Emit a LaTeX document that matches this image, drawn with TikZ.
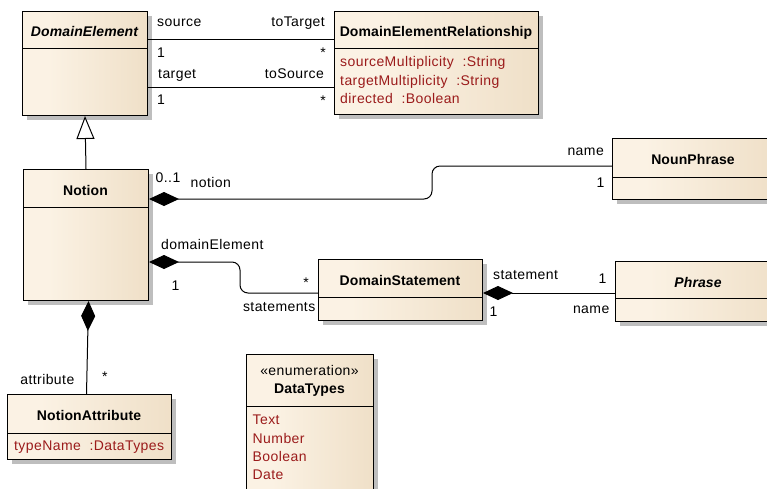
\documentclass[tikz,border=0pt]{standalone}
\usepackage{fontspec}
\setmainfont{Liberation Sans}[LetterSpace=3,BoldFeatures={LetterSpace=0.8},BoldItalicFeatures={LetterSpace=0.8}]
\usetikzlibrary{arrows.meta,shadows}
\definecolor{cream}{HTML}{FBF2E4}
\definecolor{tanR}{HTML}{E8D4B6}
\definecolor{tanL}{HTML}{E7D5B8}
\definecolor{attrc}{HTML}{9B1B1B}
\definecolor{shadowc}{HTML}{BEBEBE}
\pgfdeclarehorizontalshading{classshade}{100bp}{color(0bp)=(tanL); color(2.5bp)=(tanL); color(5bp)=(cream); color(35bp)=(cream); color(100bp)=(tanR)}
\tikzset{
  every node/.style={font=\fontsize{14}{16}\selectfont, inner sep=0pt},
  cls/.style={draw=black, line width=1pt, shade, shading=classshade, anchor=north west,
    drop shadow={shadow xshift=4pt, shadow yshift=-4pt, fill=shadowc, opacity=1}},
  ttl/.style={anchor=base, font=\fontsize{14}{16}\selectfont\bfseries},
  ttli/.style={anchor=base, font=\fontsize{14}{16}\selectfont\bfseries\itshape},
  attr/.style={anchor=base west, text=attrc},
  lbl/.style={anchor=base west},
  lble/.style={anchor=base east},
  conn/.style={line width=1pt, black},
  comp/.style={conn, {Diamond[length=30pt,width=14pt]}-},
  gen/.style={conn, -{Triangle[open,length=23pt,width=18pt,fill=white]}},
  divl/.style={line width=1pt}
}
\begin{document}
\begin{tikzpicture}[x=1pt,y=-1pt]
\useasboundingbox (0,0) rectangle (767,488);
\clip (0,0) rectangle (767,488);

% classes
\node[cls, minimum width=125pt, minimum height=104pt] (de) at (22,11) {};
\draw[divl] (de.west |- 0,48) -- (de.east |- 0,48);
\node[ttli] (deT) at (84.5,36.5) {DomainElement};

\node[cls, minimum width=204pt, minimum height=103pt] (der) at (334,11) {};
\draw[divl] (der.west |- 0,48) -- (der.east |- 0,48);
\node[ttl] (derT) at (436,36) {DomainElementRelationship};
\node[attr] (a1) at (340,66.5) {sourceMultiplicity\ \ :String};
\node[attr] (a2) at (340,85) {targetMultiplicity\ \ :String};
\node[attr] (a3) at (340,103.5) {directed\ \ :Boolean};

\node[cls, minimum width=125pt, minimum height=131pt] (no) at (23,169) {};
\draw[divl] (no.west |- 0,207) -- (no.east |- 0,207);
\node[ttl] (noT) at (85.5,195.5) {Notion};

\node[cls, minimum width=162pt, minimum height=61pt] (np) at (612,138) {};
\draw[divl] (np.west |- 0,177) -- (np.east |- 0,177);
\node[ttl] (npT) at (693,164) {NounPhrase};

\node[cls, minimum width=164pt, minimum height=61pt] (ds) at (318,259) {};
\draw[divl] (ds.west |- 0,297) -- (ds.east |- 0,297);
\node[ttl] (dsT) at (400,285.5) {DomainStatement};

\node[cls, minimum width=166pt, minimum height=60pt] (ph) at (615,261) {};
\draw[divl] (ph.west |- 0,298) -- (ph.east |- 0,298);
\node[ttli] (phT) at (698,287) {Phrase};

\node[cls, minimum width=164pt, minimum height=65pt] (na) at (7,394) {};
\draw[divl] (na.west |- 0,433) -- (na.east |- 0,433);
\node[ttl] (naT) at (89,420) {NotionAttribute};
\node[attr] (na1) at (14,450.5) {typeName\ \ :DataTypes};

\node[cls, minimum width=127pt, minimum height=160pt] (dt) at (246,354) {};
\draw[divl] (dt.west |- 0,406) -- (dt.east |- 0,406);
\node[anchor=base] (dtS) at (309.5,375) {«enumeration»};
\node[ttl] (dtT) at (309.5,393) {DataTypes};
\node[attr] (dt1) at (252.5,424) {Text};
\node[attr] (dt2) at (252.5,443) {Number};
\node[attr] (dt3) at (252.5,461) {Boolean};
\node[attr] (dt4) at (252.5,479) {Date};

% connectors
\draw[conn] (de.east |- 0,39) -- (der.west |- 0,39);
\draw[conn] (de.east |- 0,87) -- (der.west |- 0,87);
\node[lbl] (l1) at (157,26) {source};
\node[lble] (l2) at (325,26) {toTarget};
\node[lbl] (l3) at (157,57) {1};
\node[lble] (l4) at (326,57) {*};
\node[lbl] (l5) at (158,78) {target};
\node[lble] (l6) at (324,78) {toSource};
\node[lbl] (l7) at (157,104) {1};
\node[lble] (l8) at (326,105) {*};

\draw[gen] (no.north) -- (de.south);

\draw[comp, rounded corners=8pt] (no.east |- 0,199) -- (432,199) -- (432,166) -- (np.west |- 0,166);
\node[lbl] (l9) at (155.5,182) {0..1};
\node[lbl] (l10) at (190.5,187) {notion};
\node[lble] (l11) at (604,155) {name};
\node[lble] (l12) at (604.5,187) {1};

\draw[comp, rounded corners=8pt] (no.east |- 0,262) -- (240,262) -- (240,293) -- (ds.west |- 0,293);
\node[lbl] (l13) at (161,249) {domainElement};
\node[lbl] (l14) at (171.5,290.5) {1};
\node[lble] (l15) at (309,287) {*};
\node[lble] (l16) at (315.5,311.5) {statements};

\draw[comp] (ds.east |- 0,293) -- (ph.west |- 0,293);
\node[lbl] (l17) at (493,279) {statement};
\node[lble] (l18) at (606.5,283) {1};
\node[lbl] (l19) at (489.5,316.5) {1};
\node[lble] (l20) at (609.5,313) {name};

\draw[comp] ([xshift=2.5pt]no.south) -- ([xshift=-3pt]na.north);
\node[lble] (l21) at (74.5,384) {attribute};
\node[lbl] (l22) at (102,381) {*};
\end{tikzpicture}
\end{document}
